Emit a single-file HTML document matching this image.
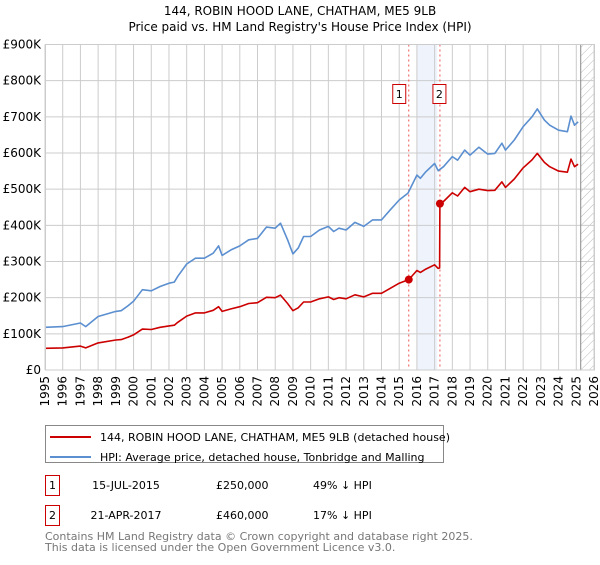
<!DOCTYPE html>
<html><head><meta charset="utf-8"><style>
body{margin:0;background:#fff;font-family:"Liberation Sans","DejaVu Sans",sans-serif;}
</style></head><body>
<svg id="c" width="600" height="560" xmlns="http://www.w3.org/2000/svg" font-family="DejaVu Sans, Liberation Sans, sans-serif">
<defs><pattern id="hatch" width="6" height="6" patternUnits="userSpaceOnUse" patternTransform="rotate(45)"><line x1="0" y1="0" x2="0" y2="6" stroke="#bbb" stroke-width="1"/></pattern></defs>
<text x="300" y="15" text-anchor="middle" font-size="12">144, ROBIN HOOD LANE, CHATHAM, ME5 9LB</text>
<text x="300" y="31" text-anchor="middle" font-size="12">Price paid vs. HM Land Registry's House Price Index (HPI)</text>
<g id="plot"></g>
<g>
<rect x="45.5" y="425.5" width="398" height="37" fill="#fff" stroke="#888"/>
<line x1="50" y1="437" x2="91" y2="437" stroke="#cc0000" stroke-width="2"/>
<text x="100" y="441" font-size="11">144, ROBIN HOOD LANE, CHATHAM, ME5 9LB (detached house)</text>
<line x1="50" y1="457" x2="91" y2="457" stroke="#5b8fd0" stroke-width="2"/>
<text x="100" y="461" font-size="11">HPI: Average price, detached house, Tonbridge and Malling</text>
</g>
<g font-size="11">
<rect x="45.5" y="475.5" width="14" height="20" fill="#fff" stroke="#cc0000"/>
<text x="52.5" y="489" text-anchor="middle">1</text>
<text x="126" y="489" text-anchor="middle">15-JUL-2015</text>
<text x="216" y="489">£250,000</text>
<text x="313" y="489">49% ↓ HPI</text>
<rect x="45.5" y="505.5" width="14" height="20" fill="#fff" stroke="#cc0000"/>
<text x="52.5" y="519" text-anchor="middle">2</text>
<text x="126" y="519" text-anchor="middle">21-APR-2017</text>
<text x="216" y="519">£460,000</text>
<text x="313" y="519">17% ↓ HPI</text>
</g>
<text x="45" y="540" font-size="11" fill="#777">Contains HM Land Registry data © Crown copyright and database right 2025.</text>
<text x="45" y="551" font-size="11" fill="#777">This data is licensed under the Open Government Licence v3.0.</text>
</svg>
<script>
const hpiYears=[1995,1996,1997,1997.3,1998,1999,1999.3,1999.7,2000,2000.5,2001,2001.5,2002,2002.3,2002.5,2003,2003.5,2004,2004.5,2004.8,2005,2005.5,2006,2006.5,2007,2007.5,2008,2008.3,2008.7,2009,2009.3,2009.6,2010,2010.5,2011,2011.3,2011.6,2012,2012.5,2013,2013.5,2014,2014.5,2015,2015.5,2016,2016.2,2016.5,2017,2017.2,2017.5,2018,2018.3,2018.7,2019,2019.5,2020,2020.4,2020.8,2021,2021.5,2022,2022.5,2022.8,2023.2,2023.5,2024,2024.5,2024.7,2024.9,2025.1];
const hpiValues=[118,120,130,120,148,162,164,178,190,222,219,231,240,243,259,293,309,309,323,343,317,332,343,360,364,395,392,406,360,321,337,369,369,387,397,383,392,387,408,397,415,415,443,470,489,539,530,548,571,551,562,590,580,608,594,616,597,599,627,608,636,673,700,722,691,677,663,659,702,677,686];
const priceYears=[1995,1996,1997,1997.3,1998,1999,1999.3,1999.7,2000,2000.5,2001,2001.5,2002,2002.3,2002.5,2003,2003.5,2004,2004.5,2004.8,2005,2005.5,2006,2006.5,2007,2007.5,2008,2008.3,2008.7,2009,2009.3,2009.6,2010,2010.5,2011,2011.3,2011.6,2012,2012.5,2013,2013.5,2014,2014.5,2015,2015.5,2015.54,2016,2016.2,2016.5,2017,2017.2,2017.28,2017.3,2017.5,2018,2018.3,2018.7,2019,2019.5,2020,2020.4,2020.8,2021,2021.5,2022,2022.5,2022.8,2023.2,2023.5,2024,2024.5,2024.7,2024.9,2025.1];
const priceValues=[60,61,66,61,75,83,84,91,97,113,112,118,122,124,132,149,158,158,165,175,162,169,175,184,186,201,200,207,184,164,172,188,188,197,202,195,200,197,208,202,212,212,226,240,249,250,275,270,279,291,281,282,460,466,490,481,505,493,500,496,497,520,505,528,559,581,599,574,562,550,547,583,562,569];
const saleYears=[2015.54,2017.3];
const saleValues=[250,460];
const saleLabels=["1","2"];
const yTicks=[0,100,200,300,400,500,600,700,800,900];
const yTickLabels=["£0","£100K","£200K","£300K","£400K","£500K","£600K","£700K","£800K","£900K"];
const xTicks=[1995,1996,1997,1998,1999,2000,2001,2002,2003,2004,2005,2006,2007,2008,2009,2010,2011,2012,2013,2014,2015,2016,2017,2018,2019,2020,2021,2022,2023,2024,2025,2026];

const L=45,R=594,T=44.5,B=370;
const x=v=>L+(v-1995)/(2026-1995)*(R-L);
const y=v=>B-v/900*(B-T);
const NS="http://www.w3.org/2000/svg";
const g=document.getElementById('plot');
function mk(tag,attrs){const e=document.createElementNS(NS,tag);for(const k in attrs)e.setAttribute(k,attrs[k]);g.appendChild(e);return e;}
// band
let e=mk('rect',{x:x(2016),y:T,width:x(2017.15)-x(2016),height:B-T,fill:'#eef3fc'});


// hatch after data end
e=mk('rect',{x:x(2025.25),y:T,width:R-x(2025.25),height:B-T,fill:'url(#hatch)'});


yTicks.forEach((t,i)=>{
 let l=mk('line',{x1:L,x2:R,y1:y(t),y2:y(t),stroke:'#cccccc','stroke-width':1});
 
 
 let tx=mk('text',{x:L-4,y:y(t)+4,'text-anchor':'end','font-size':12});
 tx.textContent=yTickLabels[i];
 
 
});
xTicks.forEach(t=>{
 let l=mk('line',{x1:x(t),x2:x(t),y1:T,y2:B,stroke:'#cccccc','stroke-width':1});
 
 
 let tx=mk('text',{x:0,y:0,'text-anchor':'end','font-size':12,transform:`translate(${x(t)+4},${B+6}) rotate(-90)`});
 tx.textContent=t;
 
 
});
e=mk('line',{x1:x(2025.25),x2:x(2025.25),y1:T,y2:B,stroke:'#888','stroke-width':1});


saleYears.forEach((s,i)=>{
 let l=mk('line',{x1:x(s),x2:x(s),y1:T,y2:B,stroke:'#ee5555','stroke-width':1,'stroke-dasharray':'2,3'});
 
 
});
function path(xs,vs,color,name){
 const d=xs.map((t,i)=>(i?'L':'M')+x(t).toFixed(1)+','+y(vs[i]).toFixed(1)).join('');
 const p=mk('path',{d:d,fill:'none',stroke:color,'stroke-width':1.6,'stroke-linejoin':'round'});
 
 
}
path(hpiYears,hpiValues,'#5b8fd0','hpi-line');
path(priceYears,priceValues,'#cc0000','price-line');
saleYears.forEach((s,i)=>{
 let c=mk('circle',{cx:x(s),cy:y(saleValues[i]),r:4,fill:'#cc0000'});
 
 
 const bx=x(s)+(i==0?-9:0)-7;
 let r=mk('rect',{x:bx,y:84.5,width:13,height:19,fill:'#fff',stroke:'#cc0000'});
 
 
 let t=mk('text',{x:bx+6.5,y:98,'text-anchor':'middle','font-size':11});
 t.textContent=saleLabels[i];
 
 
});
e=mk('rect',{x:L+0.5,y:T,width:R-L,height:B-T,fill:'none',stroke:'#cccccc'});


</script>
</body></html>
